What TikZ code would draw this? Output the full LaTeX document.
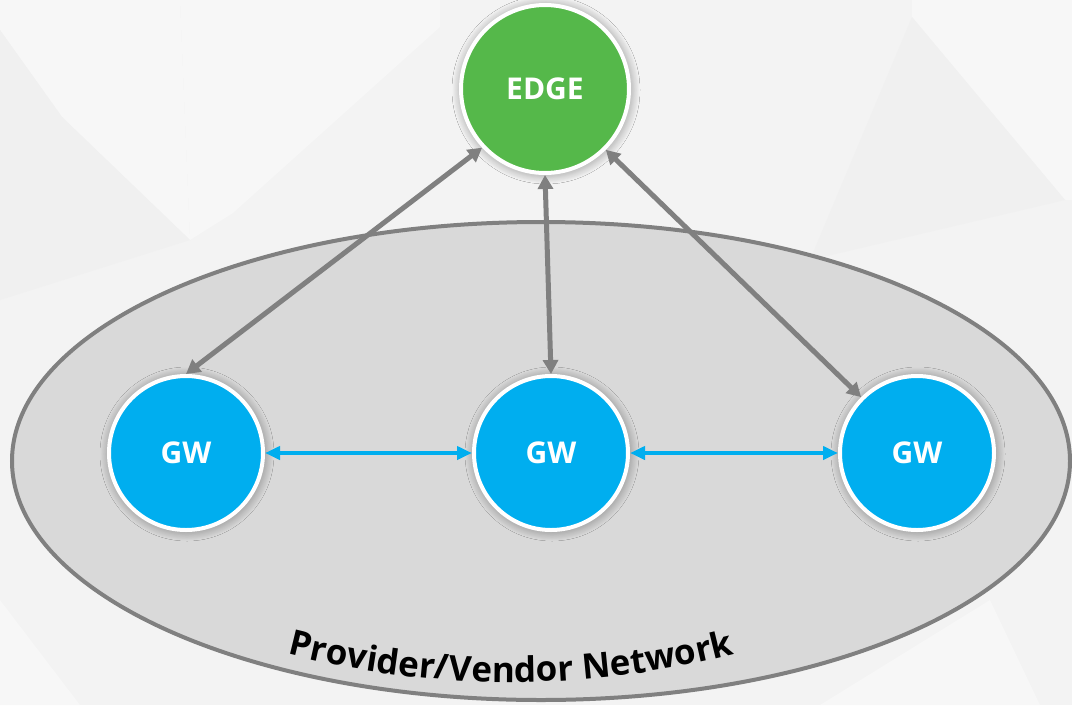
\documentclass[tikz,border=0pt]{standalone}
\usepackage{fontspec}
\setmainfont{Open Sans}
\usetikzlibrary{arrows.meta,shadows.blur,decorations.text}

\definecolor{bgbase}{HTML}{F3F3F3}
\definecolor{bglight}{HTML}{F7F7F7}
\definecolor{bgdark}{HTML}{F0F0F0}
\definecolor{netfill}{HTML}{D9D9D9}
\definecolor{netline}{HTML}{808080}
\definecolor{edgegreen}{HTML}{55B84A}
\definecolor{gwblue}{HTML}{00AEEF}
\definecolor{linkgray}{HTML}{808080}

\tikzset{
  hub/.style={circle, draw=white, line width=4pt, inner sep=0pt,
    text=white, font=\bfseries\fontsize{30}{30}\selectfont,
    blur shadow={shadow xshift=1pt, shadow yshift=-1pt, shadow scale=1,
      shadow blur radius=10pt, shadow blur steps=12, shadow opacity=45}},
  edgehub/.style={hub, fill=edgegreen, minimum size=168pt},
  gwhub/.style={hub, fill=gwblue, minimum size=154pt},
  uplink/.style={draw=linkgray, line width=5pt,
    {Triangle[length=14pt,width=15pt]}-{Triangle[length=14pt,width=15pt]}},
  peerlink/.style={draw=gwblue, line width=4pt,
    {Triangle[length=15pt,width=13pt]}-{Triangle[length=15pt,width=13pt]}},
  network/.style={draw=netline, line width=4pt, fill=netfill}
}

\begin{document}
\begin{tikzpicture}[x=1pt,y=-1pt]
\useasboundingbox (0,0) rectangle (1072,705);

% low-poly backdrop
\fill[bgbase] (0,0) rectangle (1072,705);
\fill[bglight] (0,0) -- (180,0) -- (190,240) -- (62,117) -- (0,30) -- cycle;
\fill[bgdark] (0,30) -- (62,117) -- (0,117) -- cycle;
\fill[bgdark] (62,117) -- (190,240) -- (0,300) -- (0,117) -- cycle;
\fill[bglight] (440,27) -- (233,213) -- (190,240) -- (180,0) -- (440,0) -- cycle;
\fill[bglight] (912,0) -- (1072,0) -- (1072,200) -- (1065,200) -- (912,17) -- cycle;
\fill[bgdark] (912,17) -- (1065,200) -- (810,260) -- cycle;
\fill[bglight] (0,600) -- (80,705) -- (0,705) -- cycle;
\fill[bglight] (820,705) -- (990,600) -- (1040,705) -- cycle;

% provider / vendor network
\path[network] (541,461) ellipse [x radius=529pt, y radius=239pt];
\path[decorate, decoration={text along path, text align=center,
    text color=black,
    text={|\bfseries\fontsize{35}{35}\selectfont|Provider/Vendor Network}}]
  (262,647) .. controls (425,694) and (597,694) .. (760,647);

% hubs
\node[edgehub] (edge) at (545,89) {EDGE};
\node[gwhub] (gwL) at (186,453) {GW};
\node[gwhub] (gwM) at (551,453) {GW};
\node[gwhub] (gwR) at (917,453) {GW};

% links
\draw[uplink] (gwL.north) -- (edge.223);
\draw[uplink] (gwM.north) -- (edge.south);
\draw[uplink] (gwR.135) -- (edge.-45);
\draw[peerlink] (gwL.east) -- (gwM.west);
\draw[peerlink] (gwM.east) -- (gwR.west);
\end{tikzpicture}
\end{document}
